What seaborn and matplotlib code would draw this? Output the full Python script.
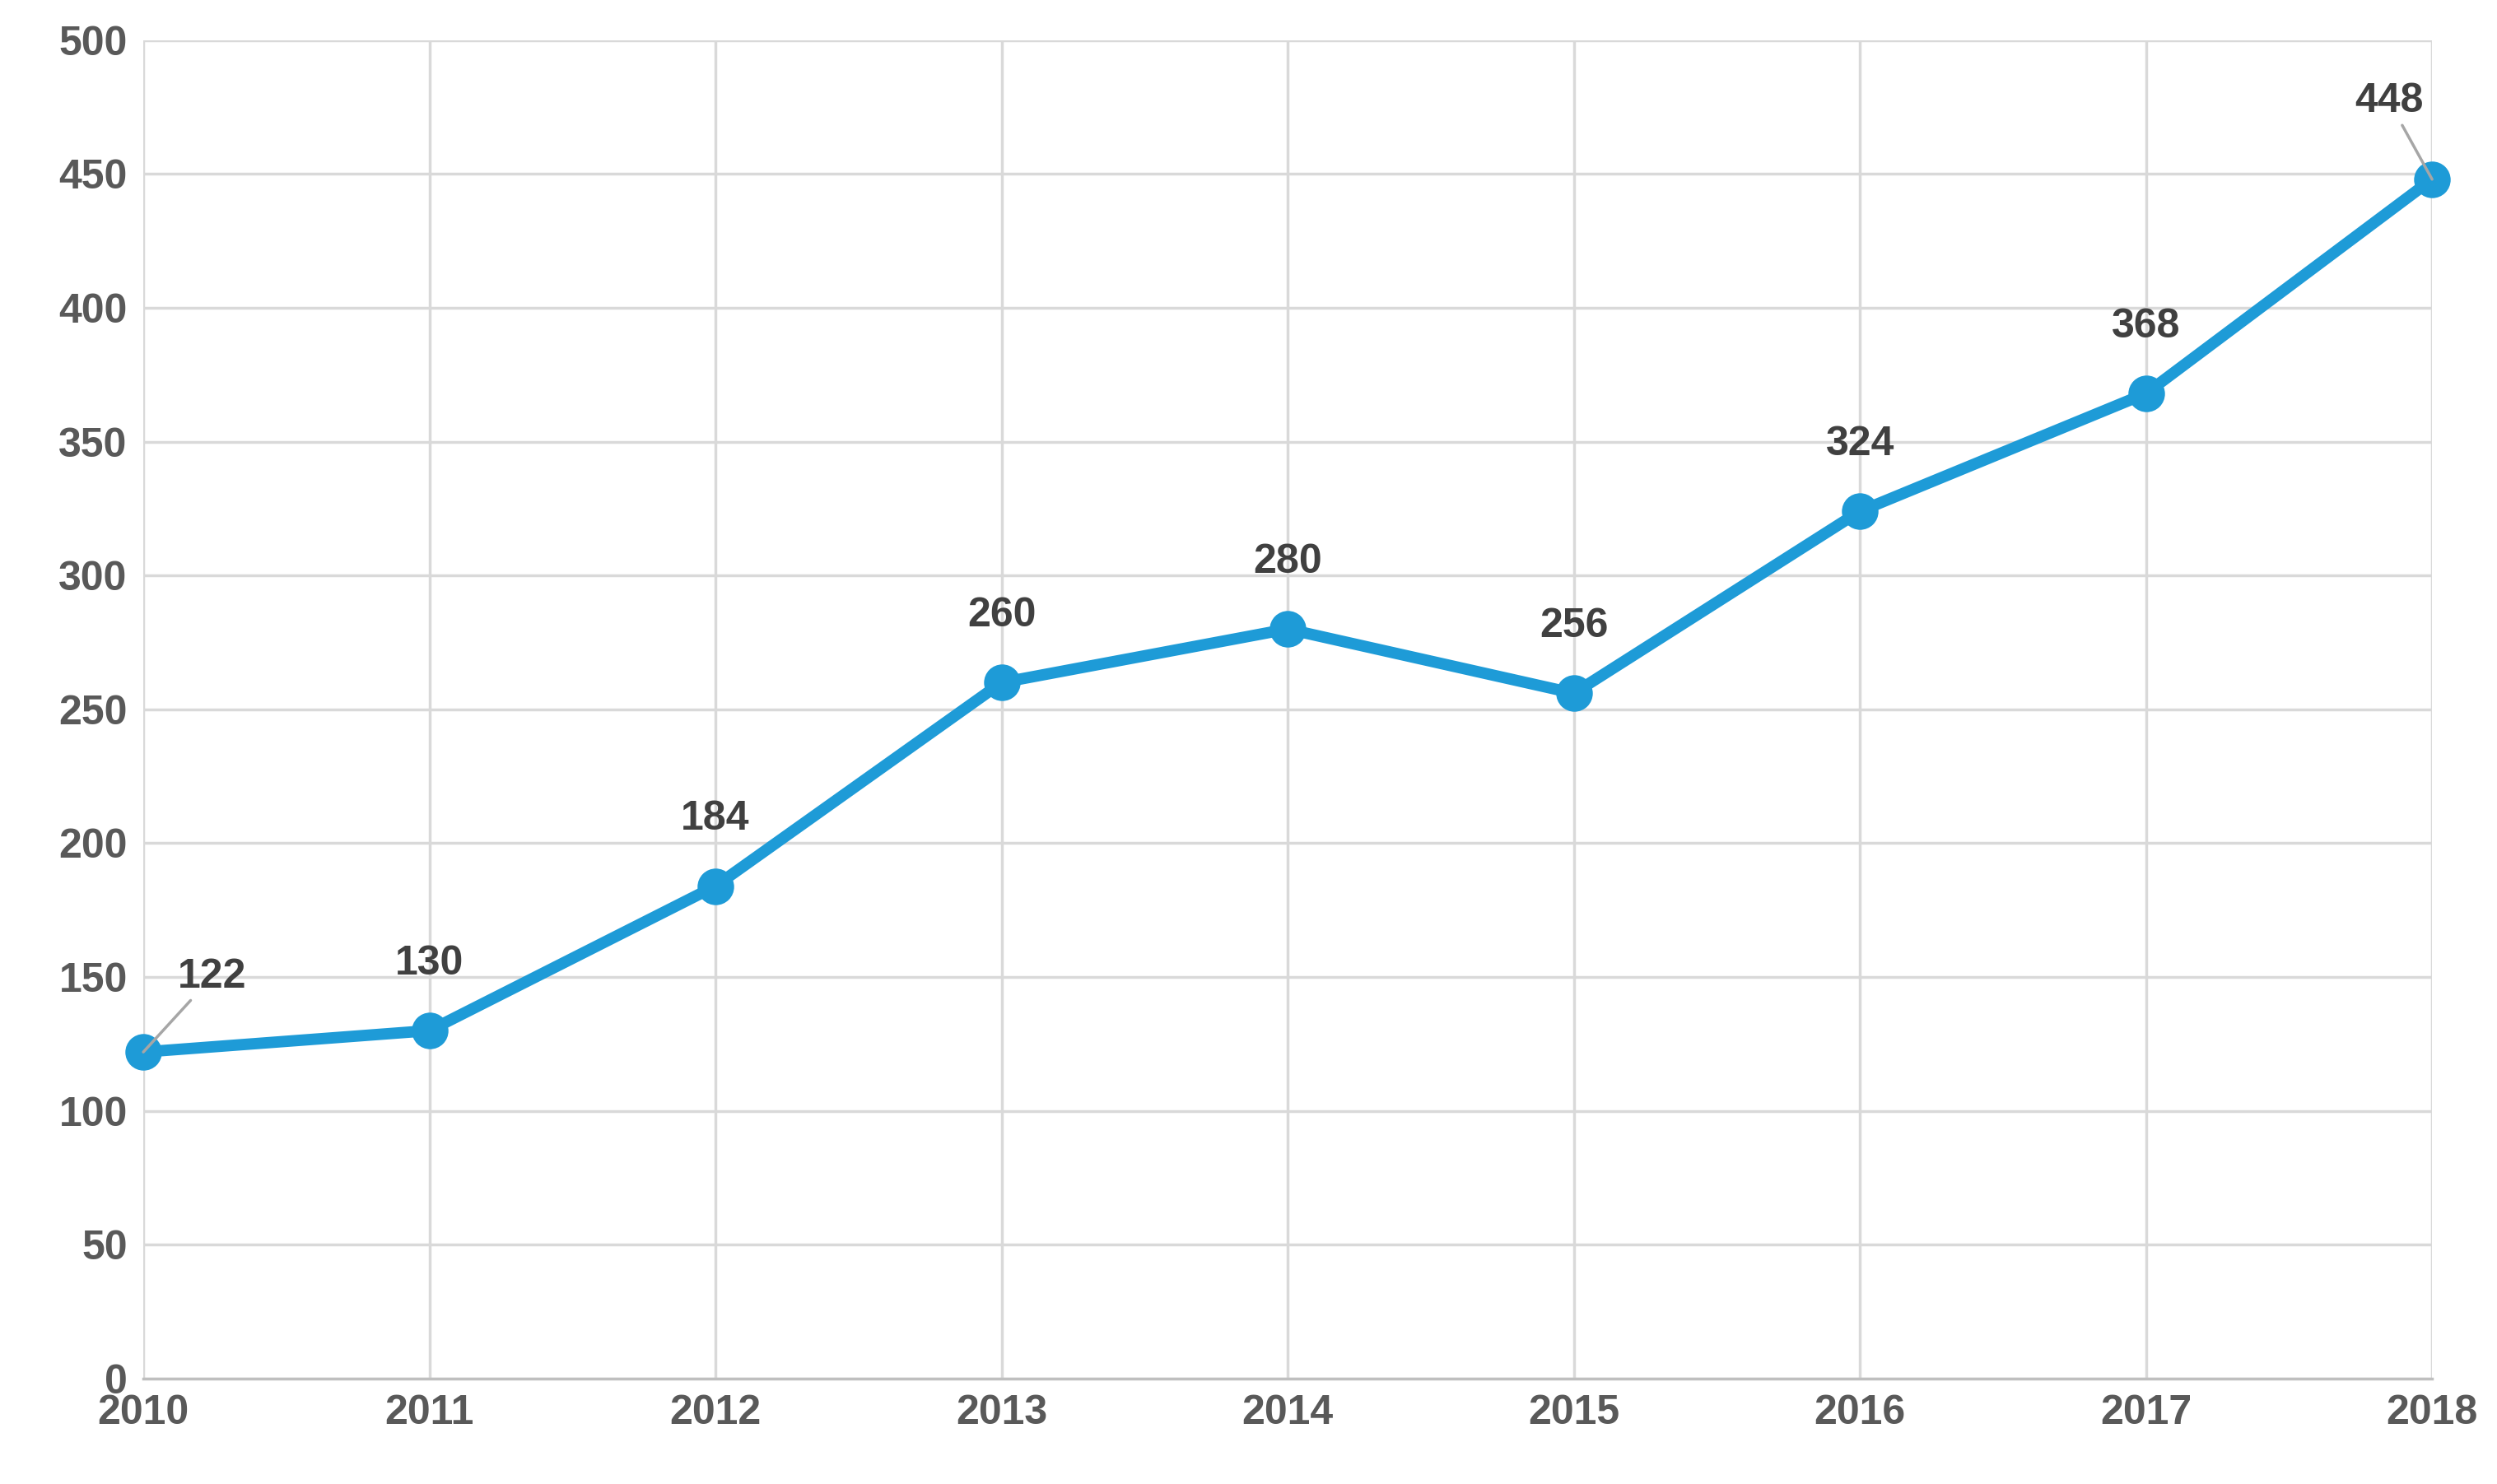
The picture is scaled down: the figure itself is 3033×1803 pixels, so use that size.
import pandas as pd
import matplotlib.pyplot as plt
import seaborn as sns

years = [2010, 2011, 2012, 2013, 2014, 2015, 2016, 2017, 2018]
values = [122, 130, 184, 260, 280, 256, 324, 368, 448]

df = pd.DataFrame({'year': years, 'value': values})

sns.set_style('white')
plt.rcParams['font.family'] = ['Liberation Sans', 'DejaVu Sans']

fig = plt.figure(figsize=(30.33, 18.03), dpi=100)
ax = fig.add_axes([0.0574, 0.071, 0.9166, 0.902])

sns.lineplot(data=df, x='year', y='value', ax=ax, color='#1E9BD7', linewidth=10,
             marker='o', markersize=32, markeredgewidth=0, zorder=3, clip_on=False)

ax.set_xlim(2010, 2018)
ax.set_ylim(0, 500)
ax.set_xticks(years)
ax.set_yticks(range(0, 501, 50))
ax.grid(True, color='#D9D9D9', linewidth=2.5)
ax.set_axisbelow(True)
for s in ['top', 'right', 'left']:
    ax.spines[s].set_visible(False)
ax.spines['bottom'].set_color('#BFBFBF')
ax.spines['bottom'].set_linewidth(2.5)
ax.tick_params(axis='both', length=0, labelsize=36, labelcolor='#595959', pad=14)
for t in ax.get_xticklabels() + ax.get_yticklabels():
    t.set_fontweight('bold')
ax.set_xlabel('')
ax.set_ylabel('')

for x, y in zip(years, values):
    if x == 2010:
        ax.annotate(str(y), xy=(x, y), xytext=(x + 0.24, y + 28), ha='center', va='center',
                    fontsize=36, fontweight='bold', color='#404040',
                    arrowprops=dict(arrowstyle='-', color='#A6A6A6', lw=2.5, shrinkB=0))
    elif x == 2018:
        ax.annotate(str(y), xy=(x, y), xytext=(x - 0.15, y + 29), ha='center', va='center',
                    fontsize=36, fontweight='bold', color='#404040',
                    arrowprops=dict(arrowstyle='-', color='#A6A6A6', lw=2.5, shrinkB=0))
    else:
        ax.text(x, y + 25, str(y), ha='center', va='center', fontsize=36,
                fontweight='bold', color='#404040')

fig.savefig('out.png', dpi=100)
